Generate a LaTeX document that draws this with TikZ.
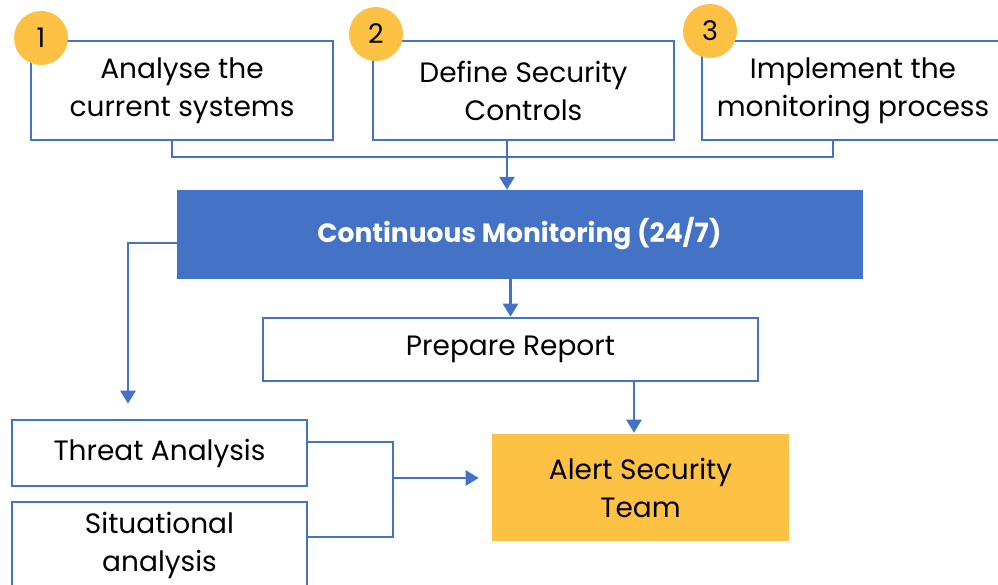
\documentclass[tikz,border=0pt]{standalone}
\usepackage{fontspec}
\setmainfont{Poppins}
\usetikzlibrary{arrows.meta,calc}
\definecolor{cblue}{HTML}{4472C4}
\definecolor{cgold}{HTML}{FDC143}
\begin{document}
\begin{tikzpicture}[x=1pt,y=-1pt,
  box/.style={draw=cblue,line width=2.6pt,fill=white,rectangle,inner sep=0pt,align=center,
    font=\fontsize{28}{38}\selectfont,text=black},
  badge/.style={circle,fill=cgold,minimum size=54pt,inner sep=0pt,font=\fontsize{27}{30}\selectfont},
  conn/.style={draw=cblue,line width=2.6pt},
  arr/.style={conn,-{Triangle[width=15pt,length=13pt]}}]
\clip (0,0) rectangle (998,585);
\fill[white] (0,0) rectangle (998,585);
% top boxes
\node[box,minimum width=302pt,minimum height=99pt] (b1) at (182,90.5) {Analyse the\\current systems};
\node[box,minimum width=301pt,minimum height=99pt] (b2) at (523.5,90.5) {Define Security\\Controls};
\node[box,minimum width=302pt,minimum height=99pt] (b3) at (853,90.5) {Implement the\\monitoring process};
\node[badge] (c1) at (41,38) {1};
\node[badge] (c2) at (376,34) {2};
\node[badge] (c3) at (710,31) {3};
% monitoring
\node[rectangle,fill=cblue,draw=cblue,minimum width=685pt,minimum height=88pt,inner sep=0pt,
  text=white,font=\fontsize{26.5}{30}\selectfont\bfseries] (mon) at (519.5,234) {Continuous Monitoring (24/7)};
\node[box,minimum width=495pt,minimum height=63pt] (rep) at (510.5,349.5) {Prepare Report};
\node[box,fill=cgold,draw=none,minimum width=297pt,minimum height=107pt] (al) at (640.5,487.5) {Alert Security\\Team};
\node[box,minimum width=295pt,minimum height=66pt] (ta) at (159.5,453) {Threat Analysis};
\node[box,minimum width=295pt,minimum height=86pt] (sa) at (159.5,545) {Situational\\analysis};
% connectors
\coordinate (j1) at (172,157);
\coordinate (j3) at (833,157);
\coordinate (a2) at (507,157);
\draw[conn] (b1.south -| j1) -- (j1) -- (j3) -- (b3.south -| j3);
\draw[arr] (b2.south -| a2) -- (mon.north -| a2);
\coordinate (lk) at (128,243);
\draw[arr] (mon.west |- lk) -- (lk) -- ([yshift=15pt]ta.north -| lk);
\draw[arr] (mon.south -| rep.north) -- (rep.north);
\coordinate (ra) at (634,400);
\draw[arr] (rep.south -| ra) -- (al.north -| ra);
\coordinate (t1) at (393,442);
\coordinate (s1) at (393,537);
\coordinate (jn) at (393,478);
\draw[conn] (ta.east |- t1) -- (t1) -- (s1) -- (sa.east |- s1);
\draw[arr] (jn) -- ([xshift=-12pt]al.west |- jn);
\end{tikzpicture}
\end{document}
